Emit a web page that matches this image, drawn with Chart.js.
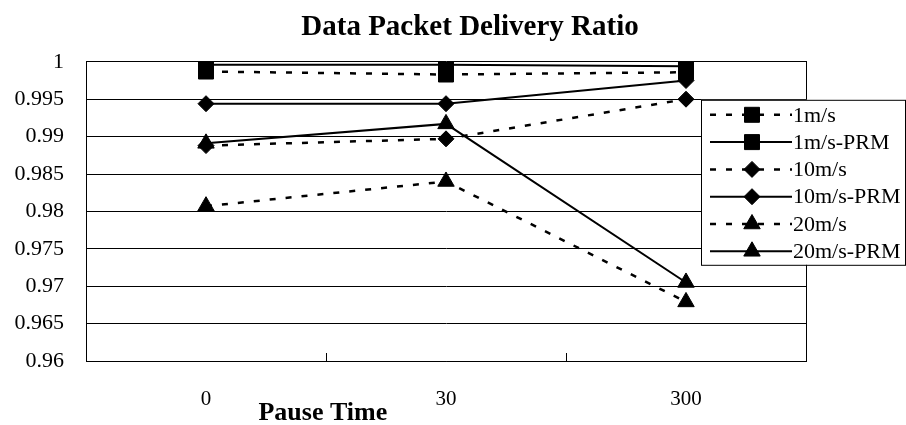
<!DOCTYPE html>
<html>
<head>
<meta charset="utf-8">
<script src="https://cdn.jsdelivr.net/npm/chart.js@4/dist/chart.umd.min.js"></script>
<style>
  html, body { margin: 0; padding: 0; background: #fff; }
  #wrap { width: 906px; height: 425px; }
</style>
</head>
<body>
<div id="wrap"><canvas id="c" width="906" height="425"></canvas></div>
<script>
const categories = ['0', '30', '300'];
const seriesNames = ['1m/s', '1m/s-PRM', '10m/s', '10m/s-PRM', '20m/s', '20m/s-PRM'];
const v1 = [0.9987, 0.9983, 0.9986];
const v1PRM = [0.9996, 0.9996, 0.9994];
const v10 = [0.9888, 0.9897, 0.9950];
const v10PRM = [0.9944, 0.9944, 0.9975];
const v20 = [0.9807, 0.9840, 0.9679];
const v20PRM = [0.9891, 0.9917, 0.9705];
const yMin = 0.96, yMax = 1, yStep = 0.005;
const titleText = 'Data Packet Delivery Ratio';
const xTitleText = 'Pause Time';

const FONT = "'Liberation Serif', 'Times New Roman', serif";
const dash = [6, 10];
const styles = [
  { shape: 'rect', r: 10.6, dashed: true },
  { shape: 'rect', r: 10.6, dashed: false },
  { shape: 'rectRot', r: 8, dashed: true },
  { shape: 'rectRot', r: 8, dashed: false },
  { shape: 'triangle', r: 9.5, dashed: true },
  { shape: 'triangle', r: 9.5, dashed: false }
];
const values = [v1, v1PRM, v10, v10PRM, v20, v20PRM];

const datasets = values.map((vals, i) => ({
  label: seriesNames[i],
  data: vals,
  borderColor: '#000',
  borderWidth: styles[i].dashed ? 2.5 : 2,
  borderDash: styles[i].dashed ? dash : [],
  pointStyle: styles[i].shape,
  pointRadius: styles[i].r,
  pointHoverRadius: styles[i].r,
  pointBackgroundColor: '#000',
  pointBorderColor: '#000',
  pointBorderWidth: 1,
  fill: false,
  tension: 0
}));

function drawMarker(ctx, shape, r, x, y) {
  ctx.beginPath();
  if (shape === 'rect') {
    const s = Math.SQRT1_2 * r;
    ctx.rect(x - s, y - s, 2 * s, 2 * s);
  } else if (shape === 'rectRot') {
    ctx.moveTo(x, y - r); ctx.lineTo(x + r, y); ctx.lineTo(x, y + r); ctx.lineTo(x - r, y);
    ctx.closePath();
  } else {
    const h = Math.sin(Math.PI / 3) * r;
    ctx.moveTo(x, y - r); ctx.lineTo(x + h, y + r / 2); ctx.lineTo(x - h, y + r / 2);
    ctx.closePath();
  }
  ctx.fillStyle = '#000'; ctx.fill();
  ctx.lineWidth = 1; ctx.strokeStyle = '#000'; ctx.stroke();
}

const overlayPlugin = {
  id: 'overlay',
  afterDraw(chart) {
    const ctx = chart.ctx;
    const ca = chart.chartArea;
    // x axis title
    ctx.save();
    ctx.font = 'bold 26px ' + FONT;
    ctx.fillStyle = '#000';
    ctx.textAlign = 'center';
    ctx.textBaseline = 'middle';
    ctx.fillText(xTitleText, ca.left + ca.width * 0.329, ca.bottom + 52);
    ctx.restore();
    // legend
    const lx = ca.right - 105, ly = ca.top + 38, lw = 204, lh = 165;
    ctx.save();
    ctx.fillStyle = '#fff';
    ctx.fillRect(lx, ly, lw, lh);
    ctx.strokeStyle = '#000';
    ctx.lineWidth = 1;
    ctx.strokeRect(lx + 0.5, ly + 0.5, lw, lh);
    ctx.font = '22px ' + FONT;
    ctx.textBaseline = 'middle';
    ctx.textAlign = 'left';
    chart.data.datasets.forEach((ds, i) => {
      const y = ly + 15 + i * 27.3;
      ctx.beginPath();
      ctx.setLineDash(styles[i].dashed ? dash : []);
      ctx.lineWidth = styles[i].dashed ? 2.5 : 2;
      ctx.strokeStyle = '#000';
      ctx.moveTo(lx + 9, y); ctx.lineTo(lx + 91, y);
      ctx.stroke();
      ctx.setLineDash([]);
      drawMarker(ctx, styles[i].shape, styles[i].r, lx + 51, y);
      ctx.fillStyle = '#000';
      ctx.fillText(ds.label, lx + 92, y + 1);
    });
    ctx.restore();
  }
};

new Chart(document.getElementById('c'), {
  type: 'line',
  data: { labels: categories, datasets },
  options: {
    responsive: false,
    animation: false,
    events: [],
    layout: { padding: { left: 0, right: -34, top: 0, bottom: 0 } },
    plugins: {
      legend: { display: false },
      tooltip: { enabled: false },
      title: {
        display: true,
        text: titleText,
        color: '#000',
        font: { family: FONT, size: 29, weight: 'bold' },
        padding: { top: 10, bottom: 17 }
      }
    },
    scales: {
      x: {
        type: 'category',
        offset: true,
        grid: { offset: true, drawOnChartArea: false, drawTicks: true, tickLength: -8, color: '#000', lineWidth: 1 },
        border: { display: true, color: '#000', width: 1 },
        ticks: { color: '#000', font: { family: FONT, size: 21 }, padding: 34, maxRotation: 0 },
        afterFit(s) { s.height = 64; }
      },
      y: {
        type: 'linear',
        min: yMin, max: yMax,
        grid: { color: '#000', lineWidth: 1, drawTicks: false },
        border: { display: true, color: '#000', width: 1 },
        ticks: {
          stepSize: yStep,
          color: '#000',
          font: { family: FONT, size: 22 },
          padding: 22,
          callback: v => String(parseFloat(Number(v).toFixed(3)))
        },
        afterFit(s) { s.width = 86; }
      },
      y2: {
        type: 'linear',
        position: 'right',
        display: true,
        grid: { drawOnChartArea: false, drawTicks: false },
        border: { display: true, color: '#000', width: 1 },
        ticks: { display: false },
        afterFit(s) { s.width = 134; }
      }
    }
  },
  plugins: [overlayPlugin]
});
</script>
</body>
</html>
